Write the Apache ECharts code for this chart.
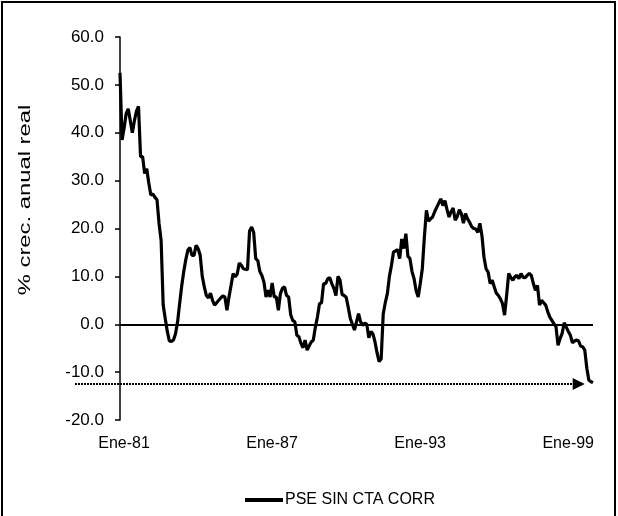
<!DOCTYPE html>
<html lang="es">
<head>
	<meta charset="UTF-8">
	<title>PSE SIN CTA CORR</title>
	<script type="text/javascript" src="https://cdn.jsdelivr.net/npm/echarts/dist/echarts.min.js"></script>
	<style type="text/css">
	html, body{margin: 0; padding: 0; background: #fff;}
	#container{width: 618px; height: 516px;}
	</style>
</head>
<body>
	<div id="container"></div>
	<script type="text/javascript">
		// datos mensuales, Ene-81 a Mar-00
		var meses = ['Ene','Feb','Mar','Abr','May','Jun','Jul','Ago','Sep','Oct','Nov','Dic'];
		var anioInicio = 1981;
		var serieNombre = 'PSE SIN CTA CORR';
		var valores = [
			52.5, 38.5, 41.0, 44.0, 45.0, 42.5, 40.0, 42.5, 44.5, 45.5,
			35.0, 35.0, 31.5, 32.5, 29.5, 27.0, 27.2, 26.5, 26.0, 21.0,
			17.5, 4.0, 1.2, -1.5, -3.5, -3.6, -3.3, -2.0, 0.5, 4.3,
			8.0, 11.0, 13.5, 15.5, 16.0, 14.4, 14.4, 16.5, 15.8, 14.4,
			10.0, 7.8, 6.0, 5.5, 6.5, 5.0, 4.0, 4.5, 5.0, 5.5,
			5.9, 5.7, 2.9, 5.7, 8.1, 10.6, 9.9, 10.5, 12.8, 12.3,
			11.6, 11.5, 11.4, 19.5, 20.3, 19.2, 13.7, 13.3, 11.0, 10.2,
			8.8, 5.7, 7.1, 5.7, 8.6, 5.7, 5.7, 2.9, 6.4, 7.5,
			7.8, 6.0, 5.7, 2.0, 0.8, 0.5, -2.3, -2.6, -4.0, -4.9,
			-3.3, -5.4, -4.5, -3.7, -3.3, -0.6, 1.5, 4.3, 4.5, 8.5,
			8.5, 9.5, 9.7, 8.5, 7.5, 6.0, 10.0, 9.2, 6.2, 6.0,
			5.6, 3.5, 1.2, 0.0, -1.2, 0.5, 2.2, 0.5, -0.2, 0.2,
			0.0, -2.8, -1.5, -2.0, -3.7, -6.0, -7.8, -7.2, 2.2, 4.5,
			6.4, 10.0, 12.3, 15.1, 15.3, 15.6, 13.7, 17.8, 15.8, 18.9,
			14.2, 13.7, 11.0, 9.5, 7.0, 5.7, 8.5, 11.6, 18.2, 23.8,
			21.5, 22.0, 22.4, 23.5, 24.4, 25.3, 26.2, 24.8, 25.8, 24.0,
			22.4, 23.5, 24.3, 21.7, 22.5, 23.9, 23.1, 21.1, 23.1, 22.0,
			21.3, 20.4, 20.0, 19.9, 19.2, 21.1, 18.5, 14.0, 11.6, 10.9,
			8.5, 9.2, 7.8, 6.5, 6.0, 5.3, 4.3, 1.9, 6.0, 10.6,
			9.8, 9.2, 9.9, 10.2, 9.5, 10.6, 9.8, 9.7, 10.2, 10.6,
			10.2, 8.5, 7.1, 8.1, 4.0, 5.0, 4.5, 4.0, 2.6, 1.5,
			0.8, 0.1, -0.5, -4.4, -3.0, -1.9, 0.3, -0.6, -1.5, -2.3,
			-3.9, -3.5, -3.3, -3.5, -4.6, -4.7, -5.4, -9.2, -11.7, -12.0, -12.2
		];
		var yMin = -20, yMax = 60, yPaso = 10;
		var nivelFlecha = -12.5;   // linea punteada
		var finFlecha = 225;       // indice de mes donde termina la flecha

		var categorias = [];
		for (var i = 0; i < valores.length; i++) {
			var a = anioInicio + Math.floor(i / 12);
			categorias.push(meses[i % 12] + '-' + String(a).slice(2));
		}

		var fuente = '"Liberation Sans", Arial, sans-serif';

		var dom = document.getElementById('container');
		var myChart = echarts.init(dom, null, {renderer: 'canvas'});
		var option = {
			animation: false,
			backgroundColor: '#fff',
			grid: {left: 120, right: 25, top: 37, bottom: 96, containLabel: false},
			legend: {
				data: [serieNombre],
				left: 240,
				top: 487,
				icon: 'rect',
				itemWidth: 38,
				itemHeight: 4,
				itemGap: 0,
				textStyle: {fontFamily: fuente, fontSize: 16, color: '#000', padding: [0, 0, 0, -3]}
			},
			xAxis: {
				type: 'category',
				data: categorias,
				boundaryGap: false,
				axisLine: {show: false, onZero: false},
				axisTick: {show: false},
				axisLabel: {interval: 71, margin: 16, color: '#000', fontFamily: fuente, fontSize: 16,
					padding: [0, 0, 0, 8]},
				splitLine: {show: false}
			},
			yAxis: {
				type: 'value',
				min: yMin,
				max: yMax,
				interval: yPaso,
				axisLine: {show: true, lineStyle: {color: '#000', width: 1.5}},
				axisTick: {show: true, length: 5, lineStyle: {color: '#000', width: 1.5}},
				axisLabel: {margin: 16, color: '#000', fontFamily: fuente, fontSize: 17,
					formatter: function(v){ return v.toFixed(1); }},
				splitLine: {show: false}
			},
			series: [
				{
					name: serieNombre,
					type: 'line',
					data: valores,
					showSymbol: false,
					symbol: 'none',
					lineStyle: {color: '#000', width: 3.2},
					itemStyle: {color: '#000'},
					markLine: {
						silent: true,
						symbol: ['none', 'none'],
						label: {show: false},
						lineStyle: {color: '#000', width: 2, type: 'solid'},
						data: [{yAxis: 0}]
					},
					z: 3
				}
			]
		};
		myChart.setOption(option);

		// flecha punteada, marco y titulo del eje
		var yFlecha = myChart.convertToPixel({yAxisIndex: 0}, nivelFlecha);
		var xFin = myChart.convertToPixel({xAxisIndex: 0}, finFlecha);
		myChart.setOption({
			graphic: [
				{
					type: 'rect',
					shape: {x: 2, y: 2, width: 613, height: 530},
					style: {fill: 'none', stroke: '#000', lineWidth: 2},
					silent: true
				},
				{
					type: 'text',
					x: 25,
					y: 200,
					rotation: Math.PI / 2,
					scaleX: 1.4,
					style: {
						text: '% crec. anual real',
						font: '17px "Liberation Sans", Arial, sans-serif',
						fill: '#000',
						textAlign: 'center',
						textVerticalAlign: 'middle',
						align: 'center',
						verticalAlign: 'middle'
					}
				},
				{
					type: 'line',
					shape: {x1: 75, y1: yFlecha, x2: xFin - 8, y2: yFlecha},
					style: {stroke: '#000', lineWidth: 2, lineDash: [2, 1]},
					silent: true
				},
				{
					type: 'polygon',
					shape: {points: [[xFin - 10, yFlecha - 6], [xFin + 2, yFlecha], [xFin - 10, yFlecha + 6]]},
					style: {fill: '#000'},
					silent: true
				}
			]
		});
	</script>
</body>
</html>
